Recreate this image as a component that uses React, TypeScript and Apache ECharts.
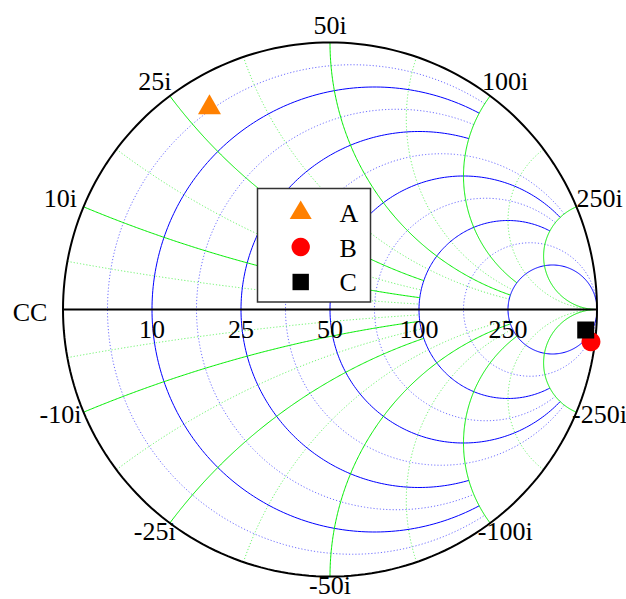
import React, { useEffect, useRef } from "react";
import * as echarts from "echarts";

// ---- data ----
const Z0 = 50; // reference impedance (ohm)
const majorTicks = [10, 25, 50, 100, 250]; // ohm, resistance & reactance grid
const minorTicks = [4.545, 16.667, 35.714, 70, 150]; // ohm, dotted grid
// a grid line of value <= first stops at second (ohm); larger values run to infinity
const clipRules = [
  [25, 100],
  [100, 250],
];
const originLabel = "CC";
const realLabels = ["10", "25", "50", "100", "250"];
const imagLabelsPos = ["10i", "25i", "50i", "100i", "250i"];
const imagLabelsNeg = ["-10i", "-25i", "-50i", "-100i", "-250i"];

const seriesNames = ["A", "B", "C"];
const seriesResistance = [3.8, 100, 500]; // ohm
const seriesReactance = [28.5, -800, -1000]; // ohm
const seriesSymbols = ["triangle", "circle", "rect"];
const seriesSizes: any[] = [[23, 20], 19, 17];
const seriesColors = ["#ff8000", "#ff0000", "#000000"];

// ---- helpers ----
const FONT = '26px "Liberation Serif", "Times New Roman", serif';
const PAGE_H = 599;

function smith(r: number, x: number): [number, number] {
  if (!isFinite(r) || !isFinite(x)) return [1, 0];
  const d = (r + 1) * (r + 1) + x * x;
  return [(r * r + x * x - 1) / d, (2 * x) / d];
}

function clipFor(vOhm: number): number {
  for (const [v, to] of clipRules) if (vOhm <= v + 1e-9) return to / Z0;
  return Infinity;
}

const N = 240;

function resistanceArc(rn: number, L: number): number[][] {
  const c = rn / (1 + rn);
  const rad = 1 / (1 + rn);
  let phiL = 0;
  if (isFinite(L)) {
    const g = smith(rn, L);
    phiL = Math.atan2(g[1], g[0] - c);
  }
  const a0 = phiL;
  const a1 = 2 * Math.PI - phiL;
  const pts: number[][] = [];
  for (let i = 0; i <= N; i++) {
    const a = a0 + ((a1 - a0) * i) / N;
    pts.push([c + rad * Math.cos(a), rad * Math.sin(a)]);
  }
  return pts;
}

function reactanceArc(xAbs: number, L: number, sign: number): number[][] {
  const cy = 1 / xAbs;
  const rad = 1 / xAbs;
  const ang = (g: number[]) => {
    let a = Math.atan2(g[1] - cy, g[0] - 1);
    if (a < -Math.PI / 2 + 1e-9) a += 2 * Math.PI;
    return a;
  };
  const a0 = ang(smith(0, xAbs));
  const a1 = isFinite(L) ? ang(smith(L, xAbs)) : 1.5 * Math.PI;
  const pts: number[][] = [];
  for (let i = 0; i <= N; i++) {
    const a = a0 + ((a1 - a0) * i) / N;
    pts.push([1 + rad * Math.cos(a), sign * (cy + rad * Math.sin(a))]);
  }
  return pts;
}

function gridSeries(ticks: number[], kind: "r" | "x", style: any) {
  return {
    type: "custom",
    coordinateSystem: "cartesian2d",
    silent: true,
    clip: false,
    data: ticks.map((v) => [v, 0]),
    renderItem: (params: any, api: any) => {
      const vOhm = api.value(0);
      const v = vOhm / Z0;
      const L = clipFor(vOhm);
      const lines =
        kind === "r"
          ? [resistanceArc(v, L)]
          : [reactanceArc(v, L, 1), reactanceArc(v, L, -1)];
      return {
        type: "group",
        children: lines.map((pts) => ({
          type: "polyline",
          shape: { points: pts.map((p) => api.coord(p)) },
          style: { ...style, fill: null },
        })),
      };
    },
  };
}

function txt(text: string, x: number, y: number, align = "center") {
  return {
    type: "text",
    style: {
      text,
      x,
      y,
      fill: "#000",
      font: FONT,
      textAlign: align,
      align,
      textVerticalAlign: "middle",
      verticalAlign: "middle",
    },
  };
}

const frameSeries = {
  type: "custom",
  coordinateSystem: "cartesian2d",
  silent: true,
  clip: false,
  data: [[0, 0]],
  renderItem: (params: any, api: any) => {
    const outer = resistanceArc(0, Infinity).map((p) => api.coord(p));
    const left = api.coord([-1, 0]);
    const right = api.coord([1, 0]);
    return {
      type: "group",
      children: [
        {
          type: "polyline",
          shape: { points: outer },
          style: { stroke: "#000", lineWidth: 2, fill: null },
        },
        {
          type: "line",
          shape: { x1: left[0], y1: left[1], x2: right[0], y2: right[1] },
          style: { stroke: "#000", lineWidth: 2 },
        },
        txt(originLabel, left[0] - 33, left[1] + 3),
      ],
    };
  },
};

const labelSeries = {
  type: "custom",
  coordinateSystem: "cartesian2d",
  silent: true,
  clip: false,
  data: majorTicks.map((v, i) => [v, i]),
  renderItem: (params: any, api: any) => {
    const v = api.value(0) / Z0;
    const i = api.value(1);
    const c = api.coord([0, 0]);
    const pr = api.coord(smith(v, 0));
    const children: any[] = [txt(realLabels[i], pr[0], pr[1] + 19.5)];
    [1, -1].forEach((s) => {
      const p = api.coord(smith(0, s * v));
      const dx = p[0] - c[0];
      const dy = p[1] - c[1];
      const len = Math.hypot(dx, dy);
      const ux = dx / len;
      const uy = dy / len;
      const label = s > 0 ? imagLabelsPos[i] : imagLabelsNeg[i];
      const ly = Math.min(p[1] + 14.5 * uy - 3, PAGE_H - 14);
      children.push(txt(label, p[0] + 25 * ux, ly));
    });
    return { type: "group", children };
  },
};

const scatterSeries = seriesNames.map((name, i) => ({
  type: "scatter",
  name,
  clip: false,
  z: 10,
  symbol: seriesSymbols[i],
  symbolSize: seriesSizes[i],
  itemStyle: { color: seriesColors[i], opacity: 1 },
  data: [smith(seriesResistance[i] / Z0, seriesReactance[i] / Z0)],
}));

// legend box (drawn)
const legendX = 257.5;
const legendY = 188.5;
const legendRowY = [210, 247, 282];
const legendTextY = [213.3, 248.3, 282.5];
const legendIconX = 300.7;

function legendIcon(i: number) {
  const y = legendRowY[i];
  const sym = seriesSymbols[i];
  const color = seriesColors[i];
  if (sym === "triangle")
    return {
      type: "polygon",
      shape: {
        points: [
          [legendIconX, y - 9.5],
          [legendIconX + 11, y + 9],
          [legendIconX - 11, y + 9],
        ],
      },
      style: { fill: color },
    };
  if (sym === "circle")
    return { type: "circle", shape: { cx: legendIconX, cy: y, r: 9.2 }, style: { fill: color } };
  return {
    type: "rect",
    shape: { x: legendIconX - 8.2, y: y - 8.2, width: 16.4, height: 16.4 },
    style: { fill: color },
  };
}

const legendGraphic = {
  type: "group",
  z: 100,
  children: [
    {
      type: "rect",
      z: 100,
      shape: { x: legendX, y: legendY, width: 113, height: 113.5 },
      style: { fill: "#fff", stroke: "#333", lineWidth: 1.5 },
    },
    ...seriesNames.map((n, i) => ({ ...legendIcon(i), z: 101 })),
    ...seriesNames.map((n, i) => ({ ...txt(n, 339.5, legendTextY[i], "left"), z: 101 })),
  ],
};

const option: any = {
  animation: false,
  backgroundColor: "#ffffff",
  grid: { left: 63, top: 42.5, width: 534, height: 534 },
  xAxis: { type: "value", min: -1, max: 1, show: false },
  yAxis: { type: "value", min: -1, max: 1, show: false },
  series: [
    gridSeries(minorTicks, "r", { stroke: "#6f6fff", lineWidth: 1, lineDash: [1.2, 2] }),
    gridSeries(minorTicks, "x", { stroke: "#6cf56c", lineWidth: 1, lineDash: [1.2, 2] }),
    gridSeries(majorTicks, "r", { stroke: "#0000ff", lineWidth: 1 }),
    gridSeries(majorTicks, "x", { stroke: "#00ee00", lineWidth: 1 }),
    frameSeries,
    labelSeries,
    ...scatterSeries,
  ],
  graphic: [legendGraphic],
};

export default function App() {
  const ref = useRef<HTMLDivElement>(null);
  useEffect(() => {
    const chart = echarts.init(ref.current!, null, { renderer: "svg" });
    chart.setOption(option);
    return () => chart.dispose();
  }, []);
  return (
    <div
      ref={ref}
      style={{ position: "fixed", left: 0, top: 0, width: 626, height: 599, background: "#fff" }}
    />
  );
}
